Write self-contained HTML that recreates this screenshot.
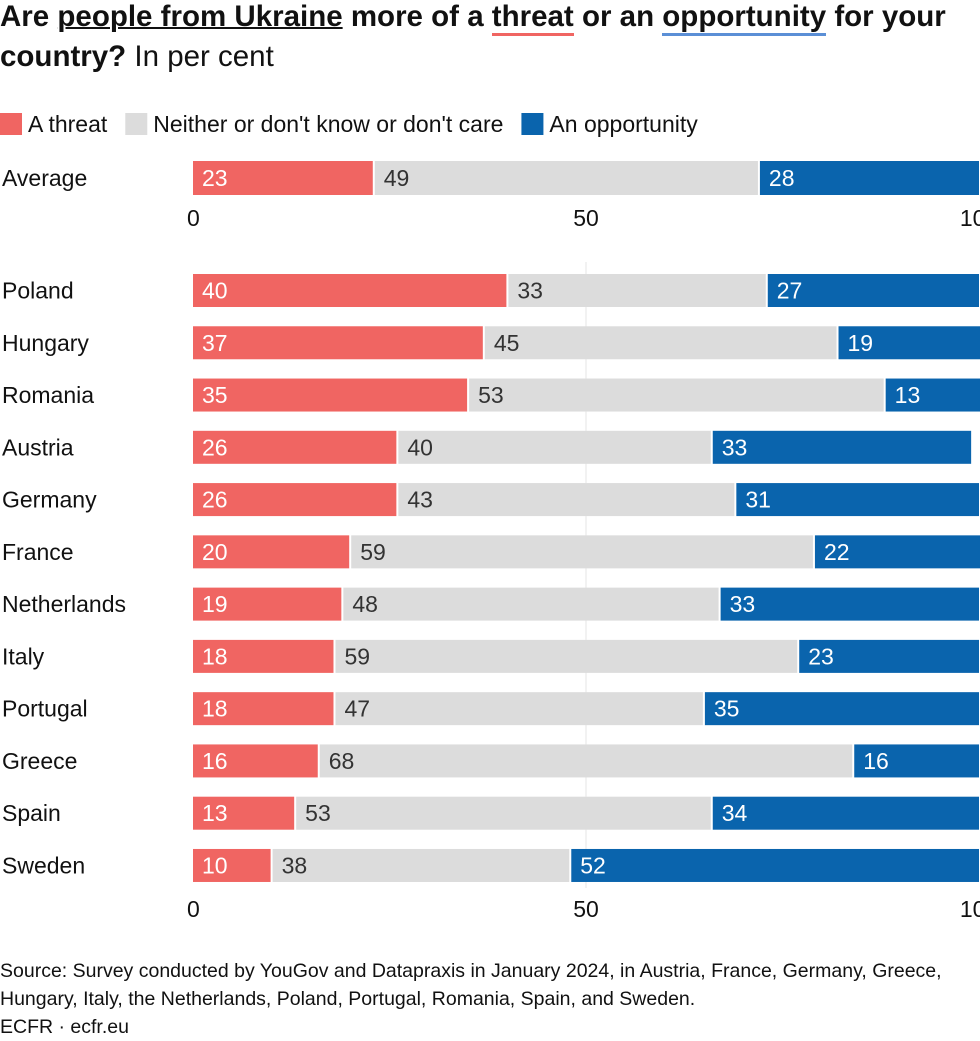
<!DOCTYPE html>
<html><head><meta charset="utf-8"><style>
body{margin:0;width:980px;height:1036px;overflow:hidden;background:#fff;font-family:"Liberation Sans",sans-serif;color:#111}
.t{position:absolute;left:0;font-size:29.5px;white-space:nowrap;letter-spacing:0px}
</style></head><body>
<div class="t" style="top:0px;font-weight:bold">Are <u style="text-decoration-thickness:2px">people from Ukraine</u> more of a <span style="border-bottom:3px solid #f06562">threat</span> or an <span style="border-bottom:3px solid #5b8fd6">opportunity</span> for your</div>
<div class="t" style="top:40px"><b>country?</b> In per cent</div>
<svg id="c" width="980" height="1036" style="position:absolute;left:0;top:0"></svg>
<div style="position:absolute;left:0;top:957px;font-size:19.5px;line-height:28px;letter-spacing:0px;white-space:nowrap">Source: Survey conducted by YouGov and Datapraxis in January 2024, in Austria, France, Germany, Greece,<br>Hungary, Italy, the Netherlands, Poland, Portugal, Romania, Spain, and Sweden.<br>ECFR · ecfr.eu</div>
<script>
const categories=["Poland","Hungary","Romania","Austria","Germany","France","Netherlands","Italy","Portugal","Greece","Spain","Sweden"];
const threat=[40,37,35,26,26,20,19,18,18,16,13,10];
const neither=[33,45,53,40,43,59,48,59,47,68,53,38];
const opportunity=[27,19,13,33,31,22,33,23,35,16,34,52];
const avgValues=[23,49,28];
const tickLabels=[0,50,100];
const legendLabels=["A threat","Neither or don't know or don't care","An opportunity"];
const colors=["#f06562","#dcdcdc","#0a64ad"];
const svg=document.getElementById('c');const NS="http://www.w3.org/2000/svg";
const x=v=>193+v*7.86;
function el(t,a,txt){const e=document.createElementNS(NS,t);for(const k in a)e.setAttribute(k,a[k]);if(txt!==undefined)e.textContent=txt;svg.appendChild(e);return e;}
let lx=0;
legendLabels.forEach((l,i)=>{const r=el('rect',{x:lx,y:113,width:22,height:22,fill:colors[i]});


const t=el('text',{x:lx+28,y:132,'font-size':23,fill:'#111'},l);


lx+=28+t.getComputedTextLength()+18;});
function row(name,vals,y,h){
 const lab=el('text',{x:2,y:y+h/2+8,'font-size':23,fill:'#111'},name);
 
 
 let acc=0;
 vals.forEach((v,i)=>{const x0=x(acc)+(i?1:0),x1=x(acc+v)-(i<2?1:0);
  const r=el('rect',{x:x0,y:y,width:Math.max(0,x1-x0),height:h,fill:colors[i]});
  
  
  const t=el('text',{x:x0+9,y:y+h/2+8,'font-size':23,fill:i==1?'#333':'#fff'},v);
  
  
  acc+=v;});
}
function axis(y){tickLabels.forEach(v=>{const t=el('text',{x:x(v),y:y,'font-size':23,fill:'#111','text-anchor':v==0?'start':'middle'},v);
 if(v==0)t.setAttribute('x',x(v)-6);
 
 });}
const g=el('line',{x1:x(50),x2:x(50),y1:262,y2:888,stroke:'#e6e6e6','stroke-width':1});


row("Average",avgValues,161,34);
axis(226);
categories.forEach((c,i)=>row(c,[threat[i],neither[i],opportunity[i]],274+i*52.27,33));
axis(917);
</script>
</body></html>
